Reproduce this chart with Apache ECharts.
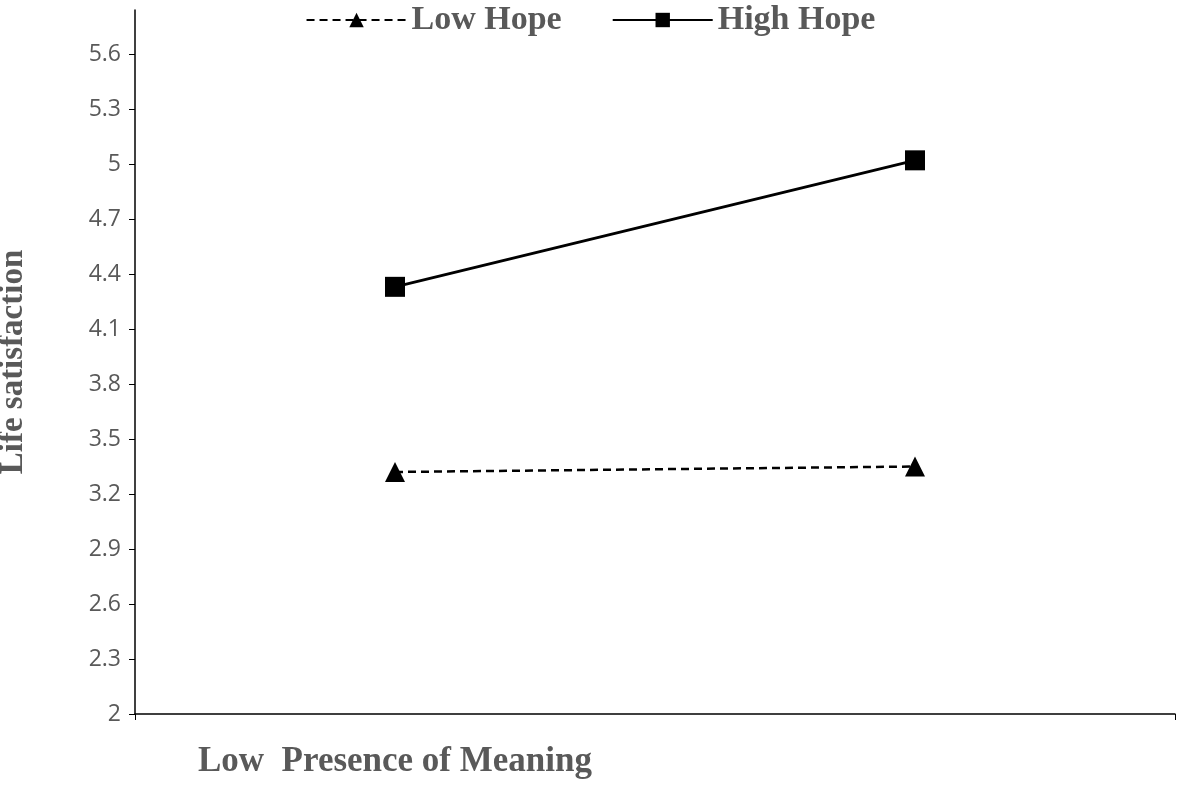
<!DOCTYPE html>
<html><head><meta charset="utf-8">
<script src="https://cdn.jsdelivr.net/npm/echarts@6/dist/echarts.min.js"></script>
<style>html,body{margin:0;background:#fff}#c{width:1181px;height:786px}</style>
</head><body><div id="c"></div>
<script>
const categories = ['Low  Presence of Meaning', 'High  Presence of Meaning'];
const lowHope = [3.32, 3.35];
const highHope = [4.33, 5.02];
const serif = '"Liberation Serif","DejaVu Serif",serif';
const chart = echarts.init(document.getElementById('c'));
chart.setOption({
  animation: false,
  legend: {
    top: -2, left: 'center', itemWidth: 100, itemHeight: 18, itemGap: 50,
    textStyle: {fontFamily: serif, fontWeight: 'bold', fontSize: 34, color: '#595959'},
    data: ['Low Hope', 'High Hope']
  },
  grid: {left: 135, right: 6, top: 10, bottom: 72, outerBoundsMode: 'none'},
  xAxis: {
    type: 'category', data: categories, boundaryGap: true,
    axisLine: {lineStyle: {color: '#000', width: 1.5}},
    axisTick: {show: true, length: 6, lineStyle: {color: '#000'}},
    axisLabel: {margin: 30, fontFamily: serif, fontWeight: 'bold', fontSize: 35, color: '#595959'}
  },
  yAxis: {
    type: 'value', min: 2, max: 5.84, interval: 0.3,
    name: 'Life satisfaction', nameLocation: 'middle', nameGap: 105, nameRotate: 90,
    nameTextStyle: {fontFamily: serif, fontWeight: 'bold', fontSize: 33, color: '#595959'},
    axisLine: {show: true, lineStyle: {color: '#000', width: 1.5}},
    axisTick: {show: true, length: 6, lineStyle: {color: '#000'}},
    splitLine: {show: false},
    axisLabel: {showMaxLabel: false, margin: 14, fontFamily: '"Open Sans",sans-serif', fontSize: 23, color: '#595959',
      formatter: v => String(Math.round(v * 10) / 10)}
  },
  series: [
    {name: 'Low Hope', type: 'line', data: lowHope, symbol: 'triangle', symbolSize: 20,
     lineStyle: {color: '#000', width: 2.5, type: [8, 5]}, itemStyle: {color: '#000'}},
    {name: 'High Hope', type: 'line', data: highHope, symbol: 'rect', symbolSize: 20,
     lineStyle: {color: '#000', width: 3}, itemStyle: {color: '#000'}}
  ]
});
</script></body></html>
